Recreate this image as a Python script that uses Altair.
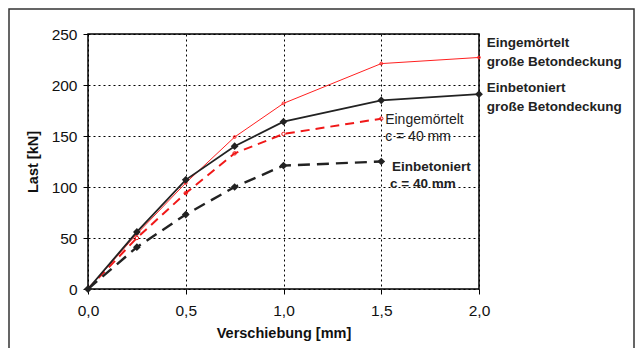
import altair as alt
import pandas as pd

# Load-displacement measurements (Verschiebung in mm, Last in kN)
x_long = [0.0, 0.25, 0.5, 0.75, 1.0, 1.5, 2.0]
mortar_large_cover = [0, 54, 104, 149, 182, 221, 227]
concrete_large_cover = [0, 56, 107, 140, 164, 185, 191]

x_short = [0.0, 0.25, 0.5, 0.75, 1.0, 1.5]
mortar_c40 = [0, 50, 94, 133, 152, 167]
concrete_c40 = [0, 41, 73, 100, 121, 125]

# Curve annotations
bold_labels = ["Eingemörtelt", "große Betondeckung", "Einbetoniert", "große Betondeckung",
               "Einbetoniert", "c = 40 mm"]
bold_x = [2.04, 2.04, 2.04, 2.04, 1.555, 1.545]
bold_y = [241, 223, 197, 178, 120, 103]
plain_labels = ["Eingemörtelt", "c = 40 mm"]
plain_x = [1.52, 1.52]
plain_y = [166, 149]

x_ticks = [0.0, 0.5, 1.0, 1.5, 2.0]
y_ticks = [0, 50, 100, 150, 200, 250]

FONT = "Liberation Sans"

xs = alt.Scale(domain=[0, 2.0], nice=False, zero=False)
ys = alt.Scale(domain=[0, 250], nice=False)

x_axis = alt.Axis(
    values=x_ticks, grid=True, gridDash=[2, 3], gridColor="black", gridOpacity=1,
    gridWidth=1, domain=False, tickColor="black", tickSize=5, labelPadding=9,
    labelFlush=False, labelOverlap=False,
    labelExpr="replace(format(datum.value, '.1f'), '.', ',')",
    title="Verschiebung [mm]", titleY=44, titleBaseline="middle",
)
y_axis = alt.Axis(
    values=y_ticks, grid=True, gridDash=[2, 3], gridColor="black", gridOpacity=1,
    gridWidth=1, domain=False, tickColor="black", tickSize=5, labelPadding=6,
    labelFlush=False, labelOverlap=False,
    title="Last [kN]", titleX=-55, titleY=127.5, titleAngle=-90,
    titleBaseline="middle", titleAlign="center",
)

X = alt.X("x:Q", scale=xs, axis=x_axis)
Y = alt.Y("y:Q", scale=ys, axis=y_axis)


def series(xv, yv, color, width, dash, marker_shape, marker_size, filled):
    df = pd.DataFrame({"x": xv, "y": yv})
    line_kw = dict(color=color, strokeWidth=width)
    if dash:
        line_kw["strokeDash"] = dash
    line = alt.Chart(df).mark_line(**line_kw).encode(x=X, y=Y)
    pts = alt.Chart(df).mark_point(
        shape=marker_shape, size=marker_size, filled=filled, color=color,
        strokeWidth=1, opacity=1,
    ).encode(x=X, y=Y)
    return [line, pts]


layers = []
layers += series(x_long, mortar_large_cover, "#ff2020", 1, None, "circle", 8, False)
layers += series(x_short, mortar_c40, "#f01818", 2, [9, 6], "circle", 12, False)
layers += series(x_long, concrete_large_cover, "#222222", 1.8, None, "diamond", 60, True)
layers += series(x_short, concrete_c40, "#222222", 2.4, [12, 7], "diamond", 60, True)

bold_df = pd.DataFrame({"t": bold_labels, "x": bold_x, "y": bold_y})
plain_df = pd.DataFrame({"t": plain_labels, "x": plain_x, "y": plain_y})

bold_text = alt.Chart(bold_df).mark_text(
    align="left", baseline="middle", font=FONT, fontSize=13.5, fontWeight="bold",
    color="#222222",
).encode(x=X, y=Y, text="t:N")

plain_text = alt.Chart(plain_df).mark_text(
    align="left", baseline="middle", font=FONT, fontSize=14, color="#222222",
).encode(x=X, y=Y, text="t:N")

# Outer border around the figure
frame = alt.Chart(pd.DataFrame({"a": [0]})).mark_rect(
    fill=None, stroke="#333333", strokeWidth=1.5,
).encode(
    x=alt.value(-79), x2=alt.value(546), y=alt.value(-25), y2=alt.value(330),
)

chart = alt.layer(*layers, bold_text, plain_text, frame).properties(
    width=391, height=255,
    autosize=alt.AutoSizeParams(type="none"),
    padding={"left": 88, "top": 34, "right": 159, "bottom": 59},
    background="white",
).configure_view(
    stroke="black", strokeWidth=1.5,
).configure_axis(
    labelFont=FONT, labelFontSize=15.5, labelColor="#111111",
    titleFont=FONT, titleFontSize=14.5, titleFontWeight="bold", titleColor="#111111",
)

chart.save("out.html", embed_options={"renderer": "svg", "actions": False})
